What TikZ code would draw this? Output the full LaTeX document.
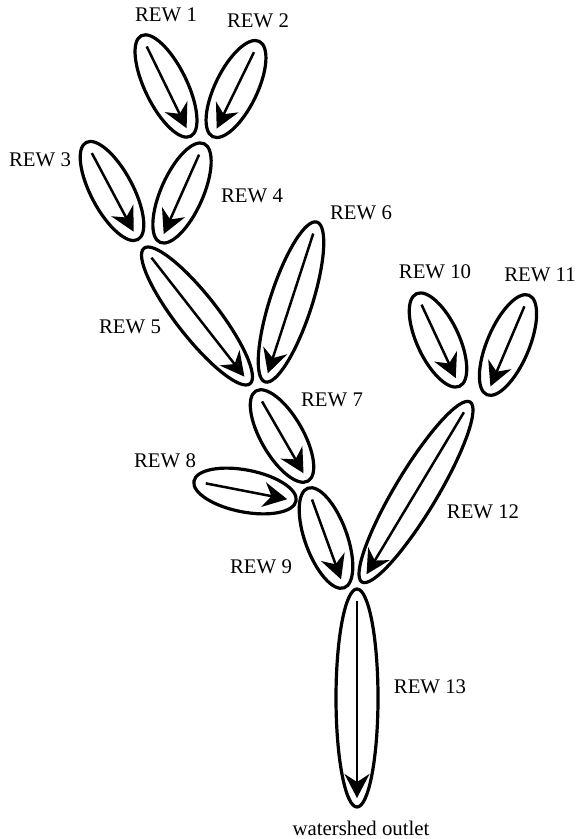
\documentclass[tikz,border=0pt]{standalone}
\usepackage{fontspec}
\setmainfont{Liberation Serif}
\usepackage{tikz}
\usetikzlibrary{arrows.meta}
\tikzset{
    flow/.style = {line width=1.25pt, -{Stealth[length=12pt,width=12.5pt,inset=4pt]}},
    lbl/.style = {font=\fontsize{10.4}{12}\selectfont, inner sep=0pt},
    pics/rew/.style = {
        code = {%
        \coordinate (-center) at (0,0);
        \draw[line width=1.6pt] (0,0) ellipse[x radius=#1, y radius=21];
        \draw[flow] (-#1+12,0) -- (#1-9,0);
        }
    },
}
\begin{document}
\begin{tikzpicture}[x=0.5pt,y=-0.5pt]
\useasboundingbox (0,0) rectangle (577,839);

\pic[rotate=-64] (R1) at (166,86) {rew=56};
\node[lbl] (L1) at (166,15) {REW 1};

\pic[rotate=-116] (R2) at (236,89) {rew=53};
\node[lbl] (L2) at (258,21) {REW 2};

\pic[rotate=-62] (R3) at (112,191) {rew=55};
\node[lbl] (L3) at (40,160) {REW 3};

\pic[rotate=-114] (R4) at (182,193) {rew=54};
\node[lbl] (L4) at (252,196) {REW 4};

\pic[rotate=-52] (R5) at (197,316) {rew=86};
\node[lbl] (L5) at (130,327) {REW 5};

\pic[rotate=-108] (R6) at (291,302) {rew=84};
\node[lbl] (L6) at (361,213) {REW 6};

\pic[rotate=-60] (R7) at (282,436) {rew=52};
\node[lbl] (L7) at (332,400) {REW 7};

\pic[rotate=-11] (R8) at (245,491) {rew=52};
\node[lbl] (L8) at (165,461) {REW 8};

\pic[rotate=-70] (R9) at (326,538) {rew=53};
\node[lbl] (L9) at (261,567) {REW 9};

\pic[rotate=-65] (R10) at (438,340) {rew=51};
\node[lbl] (L10) at (435,272) {REW 10};

\pic[rotate=-113] (R11) at (508,345) {rew=54};
\node[lbl] (L11) at (540,275) {REW 11};

\pic[rotate=-121] (R12) at (416,492) {rew=105};
\node[lbl] (L12) at (483,512) {REW 12};

\pic[rotate=-90] (R13) at (357,698) {rew=109};
\node[lbl] (L13) at (430,687) {REW 13};

\node[lbl] (out) at (361,828) {watershed outlet};
\end{tikzpicture}
\end{document}
